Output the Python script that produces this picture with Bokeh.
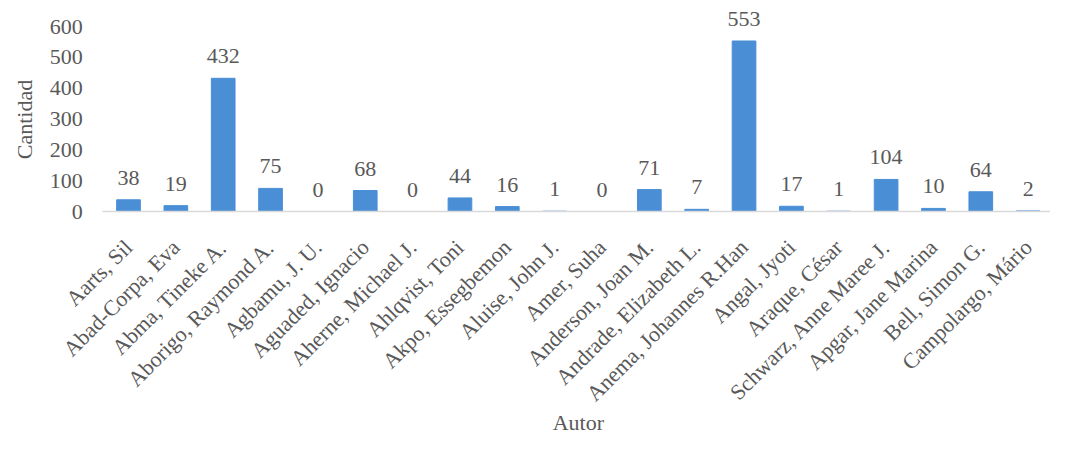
from math import pi
from bokeh.plotting import figure
from bokeh.models import ColumnDataSource, FixedTicker, Range1d
from bokeh.core.properties import value
from bokeh.embed import file_html
from bokeh.resources import INLINE

authors = ["Aarts, Sil", "Abad-Corpa, Eva", "Abma, Tineke A.", "Aborigo, Raymond A.",
           "Agbamu, J. U.", "Aguaded, Ignacio", "Aherne, Michael J.", "Ahlqvist, Toni",
           "Akpo, Essegbemon", "Aluise, John J.", "Amer, Suha", "Anderson, Joan M.",
           "Andrade, Elizabeth L.", "Anema, Johannes R.Han", "Angal, Jyoti", "Araque, César",
           "Schwarz, Anne Maree J.", "Apgar, Jane Marina", "Bell, Simon G.", "Campolargo, Mário"]
counts = [38, 19, 432, 75, 0, 68, 0, 44, 16, 1, 0, 71, 7, 553, 17, 1, 104, 10, 64, 2]
y_ticks = [0, 100, 200, 300, 400, 500, 600]
x_title = "Autor"
y_title = "Cantidad"

FONT = "Liberation Serif"
TXT = "#595959"

# layout (pixels)
W, H = 1050, 436
AXIS_Y = 211            # pixel row of value 0
PX_PER_UNIT = 185 / 600 # vertical pixels per count
FIRST_X = 128           # pixel column of first category centre
STEP = 47.35            # pixels per category

y_top = AXIS_Y / PX_PER_UNIT
y_bottom = -(H - AXIS_Y) / PX_PER_UNIT
x_start = -FIRST_X / STEP
x_end = x_start + W / STEP

pos = list(range(len(authors)))
src = ColumnDataSource(dict(x=pos, y=counts, label=[str(c) for c in counts]))

p = figure(x_range=Range1d(x_start, x_end), y_range=Range1d(y_bottom, y_top),
           width=W, height=H, output_backend="svg", toolbar_location=None,
           min_border_left=0, min_border_right=0, min_border_top=0, min_border_bottom=0)
p.outline_line_color = None
p.xgrid.grid_line_color = None
p.ygrid.grid_line_color = None

p.vbar(x="x", top="y", width=0.5, source=src, fill_color="#4a8ed6", line_color="#4a8ed6")

# data labels
p.text(x="x", y="y", text="label", source=src, y_offset=-15, text_align="center",
       text_baseline="bottom", text_font=value(FONT), text_font_size="22px", text_color=TXT)

# category axis drawn at value 0
p.xaxis.fixed_location = 0
p.xaxis.bounds = (-0.55, x_end)
p.xaxis.ticker = FixedTicker(ticks=pos)
p.xaxis.major_label_overrides = {i: a for i, a in zip(pos, authors)}
p.xaxis.axis_line_color = "#d9d9d9"
p.xaxis.axis_line_width = 1.5
p.xaxis.major_tick_line_color = None
p.xaxis.minor_tick_line_color = None
p.xaxis.major_label_orientation = pi / 4
p.xaxis.major_label_standoff = 26
p.xaxis.major_label_text_font = FONT
p.xaxis.major_label_text_font_size = "22px"
p.xaxis.major_label_text_color = TXT

# value axis drawn just left of the first category
p.yaxis.fixed_location = -0.5
p.yaxis.ticker = FixedTicker(ticks=y_ticks)
p.yaxis.axis_line_color = None
p.yaxis.major_tick_line_color = None
p.yaxis.minor_tick_line_color = None
p.yaxis.major_label_text_font = FONT
p.yaxis.major_label_text_font_size = "22px"
p.yaxis.major_label_text_color = TXT
p.yaxis.major_label_standoff = 16

# axis titles
p.text(x=[(len(authors) - 1) / 2], y=[-(422 - AXIS_Y) / PX_PER_UNIT], text=[x_title],
       text_align="center", text_baseline="middle", text_font=value(FONT),
       text_font_size="22px", text_color=TXT)
p.text(x=[x_start + 24 / STEP], y=[(AXIS_Y - 119) / PX_PER_UNIT], text=[y_title],
       angle=pi / 2, text_align="center", text_baseline="middle", text_font=value(FONT),
       text_font_size="22px", text_color=TXT)

open("out.html", "w").write(file_html(p, INLINE))
